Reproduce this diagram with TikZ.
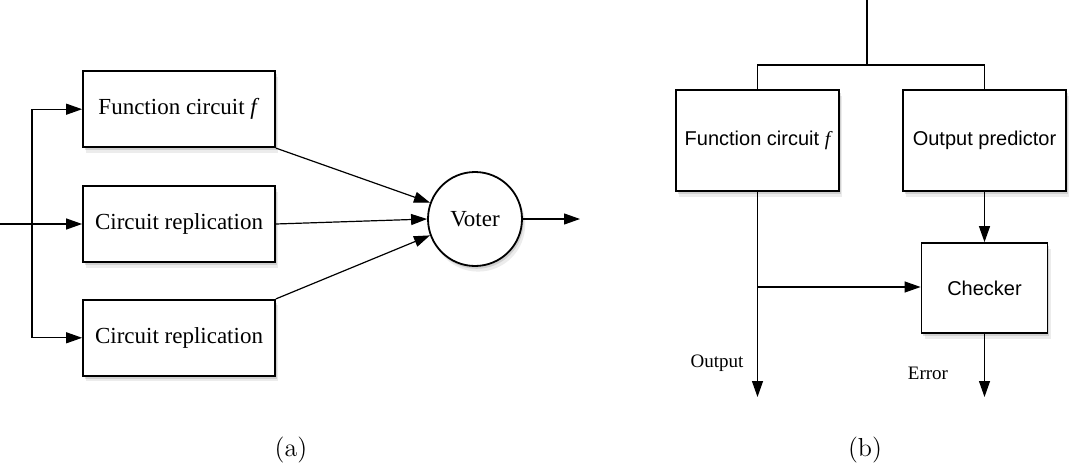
\documentclass[tikz,border=0pt]{standalone}
\usepackage{fontspec}
\newfontfamily\timesfont{Liberation Serif}
\newfontfamily\arialfont{Liberation Sans}
\usepackage{tikz}
\usetikzlibrary{positioning,arrows.meta,shadows}

\begin{document}
\begin{tikzpicture}[x=0.5pt,y=-0.5pt,line width=0.6pt,>={Triangle[length=8pt,width=5.5pt]},
  soft/.style={drop shadow={shadow xshift=0.8pt,shadow yshift=-1.4pt,opacity=0.25},
  drop shadow={shadow xshift=1.6pt,shadow yshift=-2.8pt,opacity=0.15}},
  box/.style={draw,line width=0.9pt,fill=white,minimum width=96pt,minimum height=38pt,
  font=\timesfont\fontsize{11.5}{13}\selectfont,soft},
  sbox/.style={box,font=\arialfont\fontsize{10}{12}\selectfont},
  voter/.style={circle,draw,line width=0.9pt,fill=white,minimum size=47pt,inner sep=0pt,
  font=\timesfont\fontsize{11.5}{13}\selectfont,soft},
  lbl/.style={font=\timesfont\fontsize{9.5}{11}\selectfont}]
\useasboundingbox[fill=white] (0,0) rectangle (1081,465);
% (a)
\node[box] (rep) at (179,224) {Circuit replication};
\node[box,above=18.5pt of rep] (func) {Function circuit \textit{f}};
\node[box,below=18pt of rep] (rep2) {Circuit replication};
\node[voter] (vote) at (475,219) {Voter};
\coordinate (in) at (0,224);
\coordinate (split) at (32,224);
\coordinate (out) at (580,219);
\draw (in) -- (split);
\draw[->] (split) -- (rep);
\draw[->] (split) |- (func);
\draw[->] (split) |- (rep2);
\draw[->] (func.south east) -- (vote.160);
\draw[->] (rep.east) -- (vote.west);
\draw[->] (rep2.north east) -- (vote.200);
\draw[->] (vote) -- (out);
% (b)
\node[sbox,minimum width=81.5pt,minimum height=50.5pt] (fc) at (757.5,140.5) {Function circuit {\timesfont\itshape f}};
\node[sbox,minimum width=81.5pt,minimum height=50.5pt] (pred) at (984.5,140.5) {Output predictor};
\node[sbox,minimum width=63pt,minimum height=45pt] (chk) at (984.5,288) {Checker};
\coordinate (top) at (867,0);
\coordinate (fork) at (867,65);
\coordinate (tap) at (757.5,287);
\coordinate (outp) at (757.5,397);
\coordinate (err) at (984.5,397);
\draw (top) -- (fork);
\draw (fork) -| (fc.north);
\draw (fork) -| (pred.north);
\draw[->] (pred) -- (chk);
\draw[->] (fc) -- (outp);
\draw[->] (tap) -- (tap -| chk.west);
\draw[->] (chk) -- (err);
\node[lbl] (outlbl) at (717,363) {Output};
\node[lbl] (errlbl) at (928,373) {Error};
% captions
\node[font=\fontsize{13}{15}\selectfont] (capa) at (291,450) {(a)};
\node[font=\fontsize{13}{15}\selectfont] (capb) at (865,450) {(b)};
\end{tikzpicture}
\end{document}
